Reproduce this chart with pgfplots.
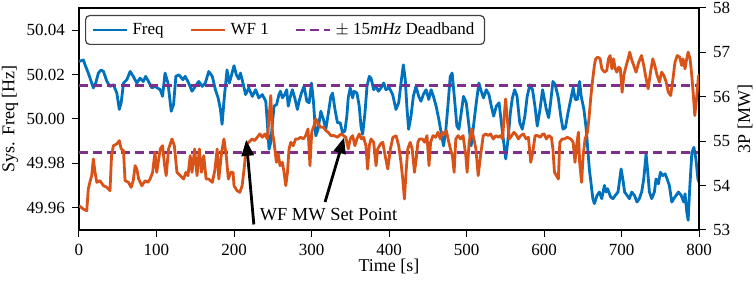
\documentclass[border=0pt]{standalone}
\usepackage{fontspec}
\setmainfont{Liberation Serif}
\usepackage{pgfplots}
\usepackage{pgfplotstable}
\pgfplotsset{compat=1.18}
\usetikzlibrary{arrows.meta}
\definecolor{cblue}{RGB}{0,114,189}
\definecolor{corange}{RGB}{217,83,25}
\definecolor{cpurple}{RGB}{126,47,142}

\pgfplotstableread{
t f
0 50.0259
5.6 50.0266
7.8 50.0244
12 50.0207
16.4 50.0162
18.5 50.0140
21.6 50.0162
25 50.0207
28.5 50.0221
31.6 50.0214
36 50.0169
40 50.0147
44.4 50.0154
48.8 50.0117
52 50.0043
54.4 50.0073
57.4 50.0162
61.7 50.0177
66 50.0214
70 50.0192
74.6 50.0162
78.8 50.0184
83 50.0169
86 50.0192
89.7 50.0169
94 50.0140
98 50.0147
104.8 50.0132
107.8 50.0102
111 50.0207
114.8 50.0162
119 50.0035
122 50.0065
125 50.0192
129 50.0199
134 50.0177
137 50.0192
141.5 50.0162
145.8 50.0125
150 50.0147
154.5 50.0169
159 50.0147
163 50.0162
167.4 50.0214
172 50.0192
176 50.0132
179.5 50.0095
182.5 50.0043
184.6 49.9976
187.6 50.0102
191 50.0221
194 50.0162
197 50.0200
200 50.0240
203 50.0200
206 50.0180
208.4 50.0207
212 50.0155
215 50.0110
219 50.0140
223.6 50.0102
228 50.0132
232 50.0095
236.5 50.0110
241 50.0080
243 49.9983
245.2 49.9864
247.4 49.9894
249.6 49.9983
251.7 50.0058
255 50.0065
258 50.0110
260 50.0125
262.4 50.0095
265.4 50.0110
268 50.0132
270 50.0058
272.3 50.0095
275.3 50.0132
278.4 50.0095
281.8 50.0043
284 50.0080
287 50.0117
290.4 50.0147
294 50.0080
297 50.0073
300 50.0162
302.5 50.0080
305.5 49.9924
308.5 49.9954
312 50.0035
315.4 49.9998
318.5 49.9954
321.5 50.0021
325 50.0102
327.2 50.0117
330.3 50.0043
333.5 49.9983
337 49.9983
340 49.9939
343.1 49.9946
345.6 50.0013
347.4 50.0095
350 50.0140
353 50.0095
355 50.0125
358.6 50.0117
361.6 50.0058
363.8 49.9968
366 49.9931
369 50.0028
371.6 50.0147
374.6 50.0192
376.8 50.0184
380.2 50.0132
383.3 50.0147
386.3 50.0125
389.7 50.0140
393.2 50.0162
396 50.0132
400.4 50.0140
404.7 50.0110
409 50.0043
412.5 50.0073
415.5 50.0162
418.5 50.0244
421 50.0177
423 50.0058
425.3 49.9954
428.4 50.0013
431.4 50.0102
434.8 50.0147
438.3 50.0102
441.3 50.0080
444.3 50.0110
447.8 50.0132
451.3 50.0088
454.3 50.0132
457.3 50.0102
460.8 50.0058
464.3 49.9998
467.3 49.9939
470.3 49.9879
473 49.9939
476 50.0058
479 50.0192
481.5 50.0207
484.6 50.0088
487.6 49.9968
490.2 49.9954
493.2 50.0028
496.2 50.0102
499.7 50.0073
503.2 49.9968
506 49.9879
509 49.9968
512.6 50.0073
516 50.0162
519 50.0125
522 50.0095
525.5 50.0132
529 50.0110
532 50.0058
535 50.0013
538.5 50.0058
542 50.0073
545 49.9983
548 49.9894
550.6 49.9820
553.6 49.9909
556.6 50.0028
559.2 50.0095
562.2 50.0132
565.2 50.0102
568.7 49.9983
572 49.9954
575.3 50.0013
578.3 50.0102
581.8 50.0154
585.2 50.0132
588.3 50.0058
591.3 49.9968
594.8 50.0043
598.2 50.0132
600.2 50.0095
603 50.0043
606 50.0006
608.5 50.0073
611.5 50.0169
614.5 50.0154
618.5 50.0095
621.6 50.0013
624.5 49.9954
627.6 49.9961
631 50.0028
634.5 50.0088
637.6 50.0140
640.3 50.0088
643 50.0088
646 50.0169
648 50.0102
651.5 50.0043
654.5 49.9954
656.5 49.9864
658.5 49.9775
661 49.9701
663 49.9641
665 49.9619
668.5 49.9656
671.5 49.9671
674.5 49.9641
678 49.9701
680 49.9671
682 49.9686
686 49.9649
689 49.9641
692 49.9656
695.5 49.9671
699.5 49.9775
701.7 49.9730
704 49.9671
707.2 49.9656
710.2 49.9641
713.2 49.9671
716.7 49.9656
720 49.9626
723 49.9641
726 49.9671
728.7 49.9730
731.7 49.9842
733.9 49.9760
736 49.9671
739 49.9641
742.4 49.9671
744.6 49.9730
747.6 49.9708
750.2 49.9760
753.2 49.9745
756.3 49.9753
758.9 49.9730
761.7 49.9701
764.9 49.9626
767.5 49.9641
770.5 49.9656
773.5 49.9671
777 49.9656
780.3 49.9626
782 49.9663
784.2 49.9582
786 49.9544
788 49.9686
790.8 49.9849
793.4 49.9872
796 49.9820
798.6 49.9730
800 49.9715
}\freqtable

\pgfplotstableread{
t p
0 53.547
5.6 53.472
10 53.434
12 53.923
14 54.073
16.4 54.224
18.5 54.600
20.7 54.299
23 54.073
27 54.111
31.6 53.998
36 53.960
40 53.885
42 54.675
44.4 54.900
48.8 54.938
52 55.013
54.4 54.825
57.4 54.788
59.4 54.111
64 54.073
67.2 53.960
70 54.111
72.4 54.449
74.6 54.374
77 54.148
81 53.998
85.4 54.111
88.8 54.073
91.8 54.148
95 54.299
98 54.750
100.3 54.299
104.8 54.825
107.8 54.900
110.5 54.449
112.5 54.224
115.6 54.825
120 55.051
123 54.900
126.4 54.299
130.7 54.224
135 54.148
138 54.299
140.6 54.224
143.5 54.675
145.8 54.299
149.2 54.825
152.3 54.224
155.3 54.825
158 54.299
161 54.675
164 54.148
167.4 54.148
172 54.073
175.2 54.336
178.3 54.825
180.4 54.148
184 54.750
187 55.051
190 54.675
192.7 54.148
195.8 54.300
198.8 54.299
200 53.998
204 53.885
207.5 53.848
210.5 53.998
213.5 54.449
216 54.938
219 54.976
223.6 55.051
226.6 55.013
230 55.088
233.4 55.164
236.5 55.088
240 55.164
243 55.051
245 55.464
247.4 56.028
249.6 55.201
251.7 54.976
254.7 54.524
257 54.712
259.4 54.449
262.4 54.524
264.6 54.299
266.8 53.998
269 54.299
271 54.825
273.3 54.976
276.5 54.900
279.5 55.051
282.6 55.051
286 55.088
289.5 55.051
292.5 55.126
295.5 55.276
298 54.449
300.3 55.201
303.3 55.352
305.8 55.502
308.5 55.389
312 55.314
315.4 55.314
318.5 55.239
321.5 55.201
325 55.126
329.3 55.126
333.5 55.088
338 55.164
341.3 55.126
344.3 55.088
347.4 54.825
350 55.051
353 55.126
356 54.900
358.6 55.051
361.6 55.164
364.6 55.051
367.2 55.088
370.2 54.900
372.4 54.374
374.6 54.900
376.8 55.051
380.2 54.976
383.3 54.449
385.4 54.825
389 54.938
392 54.976
395 54.675
398.4 54.374
401.8 54.825
405 55.088
409.2 55.120
412.5 54.900
415.5 54.524
417.7 54.148
419.9 53.697
422 54.299
424.2 54.825
427.3 54.976
429.9 54.825
432.9 54.299
435.1 54.600
437.3 54.976
439.4 55.051
442.9 55.051
446 54.976
449 55.126
451.6 54.449
453.7 54.976
456.8 55.126
460.2 55.088
463.2 55.201
466.2 55.051
468.9 55.201
471.9 55.164
474 55.239
476.2 55.051
479.3 54.825
481.8 54.675
484 54.299
486.2 55.051
489.2 55.126
492.2 55.051
495.6 55.126
499.1 54.675
500.8 54.299
503.4 54.976
506.5 55.276
509.5 55.051
512.1 54.825
515.1 54.224
518.1 54.675
521.6 55.126
525 55.164
528 55.126
531 55.164
534.5 55.051
538 55.126
541 55.088
544 55.126
546.6 55.051
548.3 55.502
550.5 55.953
552.6 55.502
555.2 55.051
558.3 55.126
561.3 55.201
564.8 55.126
566.9 55.051
570 55.126
573.4 55.164
576.9 55.051
579.9 55.088
582.9 54.524
585.5 54.750
588.5 55.126
591.6 55.126
595 55.088
598.5 55.164
600.2 55.164
603 55.051
606 55.126
609.5 55.088
611.5 54.825
613.5 54.299
616 54.224
618.5 54.148
620.4 54.976
623.5 55.051
626.6 55.051
630 55.088
634.5 55.051
637.6 54.976
640 54.524
642 54.900
644.4 55.201
646 54.524
648.5 54.073
650.5 54.675
653 55.051
656 55.201
658 55.502
660.2 55.953
662.4 56.329
665 56.705
666.7 56.855
669.4 56.893
672.4 56.855
674.6 56.630
678 56.555
681 56.592
683.2 56.855
685.3 56.930
687.6 56.630
689.7 56.855
692 56.630
694 56.555
696.4 56.667
698.5 56.630
700.8 56.103
703 56.479
705 56.630
708.5 56.855
710.6 57.006
712.8 56.855
715.8 56.705
718.8 56.555
722.3 56.780
725.8 56.930
728.7 56.705
731 56.479
734.4 56.179
737.4 56.555
740.4 56.855
743 56.705
746 56.479
749 56.329
751.7 56.555
754.7 56.479
757.7 56.329
760.4 56.103
763.4 56.028
766.4 56.404
769 56.780
772 56.930
775 56.893
777.7 56.705
779.4 56.855
782 56.630
783.8 56.818
786 57.006
788.5 56.855
790.7 56.479
792.4 56.103
794.6 55.577
796.8 55.953
799.4 56.479
800 56.404
}\wftable

\pgfplotsset{
  common/.style={
    scale only axis, width=310pt, height=111pt,
    at={(0,0)}, anchor=south west,
    xmin=0, xmax=800,
    tick align=outside,
    major tick length=3.5pt,
    tick style={black, line width=0.5pt},
    axis line style={black, line width=0.6pt},
    tick label style={font=\fontsize{8.5}{10}\selectfont},
    label style={font=\fontsize{9}{11}\selectfont},
    /pgf/number format/assume math mode=true,
  },
}

\begin{document}
\begin{tikzpicture}
\begin{axis}[common,
  ymin=49.95, ymax=50.05,
  ytick={49.96,49.98,50,50.02,50.04},
  yticklabel style={/pgf/number format/.cd, fixed, fixed zerofill, precision=2},
  xtick={0,100,...,800},
  xtick pos=bottom, ytick pos=left,
  xlabel={Time [s]},
  ylabel={Sys. Freq [Hz]},
  x label style={at={(axis description cs:0.5,-0.162)}, anchor=center},
  y label style={at={(axis description cs:-0.1113,0.5)}, anchor=center, rotate=0},
]
\addplot[cblue, line width=1.4pt, line join=round] table[x=t, y=f] {\freqtable};
\addplot[cpurple, line width=1.3pt, dash pattern=on 4.5pt off 2.5pt] coordinates {(0,50.015) (800,50.015)};
\addplot[cpurple, line width=1.3pt, dash pattern=on 4.5pt off 2.5pt] coordinates {(0,49.985) (800,49.985)};
\end{axis}
\begin{axis}[common,
  clip mode=individual,
  ymin=53, ymax=58,
  ytick={53,54,...,58},
  axis x line=none,
  axis y line*=right,
  ylabel={3P [MW]},
  y label style={at={(axis description cs:1.0742,0.5)}, anchor=center},
  legend columns=3,
  legend style={at={(axis description cs:0,1)}, anchor=north west, xshift=3pt, yshift=-3.5pt,
    draw=black!75, rounded corners=2pt, line width=0.6pt, fill=white,
    font=\fontsize{8.5}{10}\selectfont, inner xsep=3pt, inner ysep=1.5pt,
    /tikz/every even column/.append style={column sep=11pt}},
  legend cell align=left,
]
\addlegendimage{cblue, line width=1.4pt}
\addlegendentry{Freq}
\addplot[corange, line width=1.4pt, line join=round] table[x=t, y=p] {\wftable};
\addlegendentry{WF 1}
\addlegendimage{cpurple, line width=1.3pt, dash pattern=on 4.5pt off 2.5pt}
\addlegendentry{$\pm$ 15\textit{mHz} Deadband}
\draw[black, line width=1.4pt, -{Triangle[length=8pt, width=6pt]}] (axis cs:225.6,53.125) -- (axis cs:215.8,55.03);
\draw[black, line width=1.4pt, -{Triangle[length=8pt, width=6pt]}] (axis cs:317.5,53.63) -- (axis cs:342.1,55.085);
\node[font=\fontsize{9.2}{11}\selectfont, inner sep=0pt] at (axis cs:322,53.35) {WF MW Set Point};
\end{axis}
\pgfresetboundingbox
\useasboundingbox (-39.5pt,-26.5pt) rectangle (337.5pt,115pt);
\end{tikzpicture}
\end{document}
